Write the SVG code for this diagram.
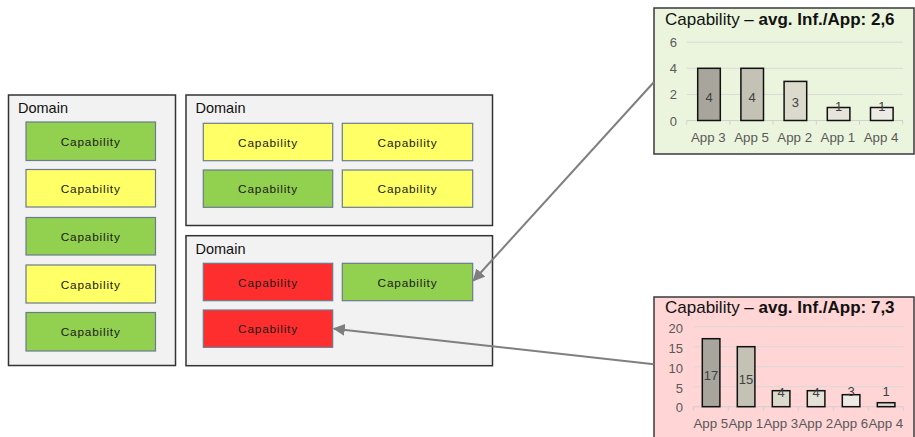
<svg xmlns="http://www.w3.org/2000/svg" width="915" height="437" viewBox="0 0 915 437">
  <style>
    .domain { fill: #f2f2f2; stroke: #333333; stroke-width: 1.5; }
    .dlabel { font-family: "Liberation Sans", Arial, sans-serif; font-size: 14.5px; fill: #111111; }
    .cap { stroke: #6b7a8f; stroke-width: 1.2; }
    .green { fill: #92d050; }
    .yellow { fill: #ffff66; }
    .red { fill: #ff2e2e; }
    .ctext { font-family: "Liberation Sans", Arial, sans-serif; font-size: 11.8px; letter-spacing: 0.8px; fill: #1a1a1a; text-anchor: middle; }
    .chart { stroke: #3a3a3a; stroke-width: 1.5; }
    .title { font-family: "Liberation Sans", Arial, sans-serif; font-size: 17px; fill: #111111; }
    .title .b { font-weight: bold; }
    .grid { stroke: #d9d9d9; stroke-width: 1; }
    .axis { stroke: #d0d0d0; stroke-width: 1; }
    .ylab { font-family: "Liberation Sans", Arial, sans-serif; font-size: 13px; fill: #595959; text-anchor: end; }
    .xlab { font-family: "Liberation Sans", Arial, sans-serif; font-size: 13.3px; fill: #595959; text-anchor: middle; }
    .bar { stroke: #111111; stroke-width: 1.5; }
    .val { font-family: "Liberation Sans", Arial, sans-serif; font-size: 13px; fill: #404040; text-anchor: middle; }
    .conn { stroke: #7f7f7f; stroke-width: 2; fill: none; marker-end: url(#arrow); }
  </style>
  <defs>
    <marker id="arrow" viewBox="0 0 10 10" refX="9" refY="5" markerWidth="6" markerHeight="6" orient="auto" markerUnits="strokeWidth">
      <path d="M0,0 L10,5 L0,10 z" fill="#7f7f7f"/>
    </marker>
  </defs>

  <!-- Left domain: five stacked capabilities -->
  <g id="domain-left">
    <rect class="domain" x="8.5" y="95" width="167" height="270.5"/>
    <text class="dlabel" x="18" y="112.5">Domain</text>
    <g id="cap-l1"><rect class="cap green" x="26" y="122" width="129.5" height="38.5"/><text class="ctext" x="90.7" y="145.5">Capability</text></g>
    <g id="cap-l2"><rect class="cap yellow" x="26" y="169.5" width="129.5" height="37.5"/><text class="ctext" x="90.7" y="192.5">Capability</text></g>
    <g id="cap-l3"><rect class="cap green" x="26" y="217.5" width="129.5" height="37.5"/><text class="ctext" x="90.7" y="240.5">Capability</text></g>
    <g id="cap-l4"><rect class="cap yellow" x="26" y="265" width="129.5" height="38"/><text class="ctext" x="90.7" y="288.5">Capability</text></g>
    <g id="cap-l5"><rect class="cap green" x="26" y="312.5" width="129.5" height="38.5"/><text class="ctext" x="90.7" y="336">Capability</text></g>
  </g>

  <!-- Upper middle domain: 2x2 capabilities -->
  <g id="domain-top">
    <rect class="domain" x="186" y="95" width="306.5" height="130.5"/>
    <text class="dlabel" x="195.5" y="113">Domain</text>
    <g id="cap-t1"><rect class="cap yellow" x="203.3" y="123.3" width="129.4" height="37.4"/><text class="ctext" x="268" y="146.5">Capability</text></g>
    <g id="cap-t2"><rect class="cap yellow" x="342.3" y="123.3" width="130.4" height="37.4"/><text class="ctext" x="407.5" y="146.5">Capability</text></g>
    <g id="cap-t3"><rect class="cap green" x="203.3" y="170" width="129.4" height="37.3"/><text class="ctext" x="268" y="193">Capability</text></g>
    <g id="cap-t4"><rect class="cap yellow" x="342.3" y="170" width="130.4" height="37.3"/><text class="ctext" x="407.5" y="193">Capability</text></g>
  </g>

  <!-- Lower middle domain: three capabilities -->
  <g id="domain-bottom">
    <rect class="domain" x="186" y="235.7" width="306.5" height="130"/>
    <text class="dlabel" x="195.5" y="254">Domain</text>
    <g id="cap-b1"><rect class="cap red" x="203.3" y="263.3" width="129.4" height="37.4"/><text class="ctext" x="268" y="286.5">Capability</text></g>
    <g id="cap-b2"><rect class="cap green" x="342.3" y="263.3" width="130.4" height="37.4"/><text class="ctext" x="407.5" y="286.5">Capability</text></g>
    <g id="cap-b3"><rect class="cap red" x="203.3" y="310" width="129.4" height="37.3"/><text class="ctext" x="268" y="333">Capability</text></g>
  </g>

  <!-- Detail chart for the green capability -->
  <g id="chart-green">
    <rect class="chart" x="654" y="8" width="260" height="146" fill="#ebf5dd"/>
    <text class="title" x="665" y="25">Capability – <tspan class="b">avg. Inf./App: 2,6</tspan></text>
    <line class="grid" x1="686.7" y1="42.2" x2="903" y2="42.2"/>
    <line class="grid" x1="686.7" y1="68.3" x2="903" y2="68.3"/>
    <line class="grid" x1="686.7" y1="94.4" x2="903" y2="94.4"/>
    <line class="axis" x1="686.7" y1="120.5" x2="903" y2="120.5"/>
    <g class="axis">
      <line x1="686.7" y1="120.5" x2="686.7" y2="124.5"/>
      <line x1="729.9" y1="120.5" x2="729.9" y2="124.5"/>
      <line x1="773.1" y1="120.5" x2="773.1" y2="124.5"/>
      <line x1="816.3" y1="120.5" x2="816.3" y2="124.5"/>
      <line x1="859.5" y1="120.5" x2="859.5" y2="124.5"/>
      <line x1="902.7" y1="120.5" x2="902.7" y2="124.5"/>
    </g>
    <text class="ylab" x="677" y="47">6</text>
    <text class="ylab" x="677" y="73">4</text>
    <text class="ylab" x="677" y="99">2</text>
    <text class="ylab" x="677" y="125.5">0</text>
    <rect class="bar" x="697.7" y="68.3" width="22.6" height="52.2" fill="#a8a59c"/>
    <rect class="bar" x="740.9" y="68.3" width="22.6" height="52.2" fill="#c4c2b5"/>
    <rect class="bar" x="784.1" y="81.4" width="22.6" height="39.1" fill="#dcdacd"/>
    <rect class="bar" x="827.3" y="107.5" width="22.6" height="13" fill="#e6e4db"/>
    <rect class="bar" x="870.5" y="107.5" width="22.6" height="13" fill="#ecebe6"/>
    <text class="val" x="709" y="101.5">4</text>
    <text class="val" x="752.2" y="101.5">4</text>
    <text class="val" x="795.4" y="106.5">3</text>
    <text class="val" x="838.6" y="110.5">1</text>
    <text class="val" x="881.8" y="110.5">1</text>
    <text class="xlab" x="708.3" y="141.5">App 3</text>
    <text class="xlab" x="751.5" y="141.5">App 5</text>
    <text class="xlab" x="794.7" y="141.5">App 2</text>
    <text class="xlab" x="837.9" y="141.5">App 1</text>
    <text class="xlab" x="881.1" y="141.5">App 4</text>
  </g>

  <!-- Detail chart for the red capability -->
  <g id="chart-red">
    <rect class="chart" x="654" y="297" width="260" height="145" fill="#ffd5d5"/>
    <text class="title" x="665" y="313">Capability – <tspan class="b">avg. Inf./App: 7,3</tspan></text>
    <line class="grid" x1="693.3" y1="326.7" x2="903.3" y2="326.7"/>
    <line class="grid" x1="693.3" y1="346.7" x2="903.3" y2="346.7"/>
    <line class="grid" x1="693.3" y1="366.7" x2="903.3" y2="366.7"/>
    <line class="grid" x1="693.3" y1="386.7" x2="903.3" y2="386.7"/>
    <line class="axis" x1="693.3" y1="406.7" x2="903.3" y2="406.7"/>
    <g class="axis">
      <line x1="693.3" y1="406.7" x2="693.3" y2="410.7"/>
      <line x1="728.3" y1="406.7" x2="728.3" y2="410.7"/>
      <line x1="763.3" y1="406.7" x2="763.3" y2="410.7"/>
      <line x1="798.3" y1="406.7" x2="798.3" y2="410.7"/>
      <line x1="833.3" y1="406.7" x2="833.3" y2="410.7"/>
      <line x1="868.3" y1="406.7" x2="868.3" y2="410.7"/>
      <line x1="903.3" y1="406.7" x2="903.3" y2="410.7"/>
    </g>
    <text class="ylab" x="683" y="333">20</text>
    <text class="ylab" x="683" y="353">15</text>
    <text class="ylab" x="683" y="373">10</text>
    <text class="ylab" x="683" y="392.5">5</text>
    <text class="ylab" x="683" y="411.5">0</text>
    <rect class="bar" x="702.3" y="338.7" width="17.6" height="68" fill="#a8a59c"/>
    <rect class="bar" x="737.3" y="346.7" width="17.6" height="60" fill="#c4c2b5"/>
    <rect class="bar" x="772.3" y="390.7" width="17.6" height="16" fill="#dcdacd"/>
    <rect class="bar" x="807.3" y="390.7" width="17.6" height="16" fill="#e3e1d8"/>
    <rect class="bar" x="842.3" y="394.7" width="17.6" height="12" fill="#ecebe6"/>
    <rect class="bar" x="877.3" y="402.7" width="17.6" height="4" fill="#dcdacd"/>
    <text class="val" x="711.1" y="379.5">17</text>
    <text class="val" x="746.1" y="383.5">15</text>
    <text class="val" x="781.1" y="397">4</text>
    <text class="val" x="816.1" y="397">4</text>
    <text class="val" x="851.1" y="396">3</text>
    <text class="val" x="886.1" y="396">1</text>
    <text class="xlab" x="710.8" y="428">App 5</text>
    <text class="xlab" x="745.8" y="428">App 1</text>
    <text class="xlab" x="780.8" y="428">App 3</text>
    <text class="xlab" x="815.8" y="428">App 2</text>
    <text class="xlab" x="850.8" y="428">App 6</text>
    <text class="xlab" x="885.8" y="428">App 4</text>
  </g>

  <!-- Links from the charts to their capabilities -->
  <g id="connectors">
    <line class="conn" x1="654" y1="82" x2="473.5" y2="280.5"/>
    <line class="conn" x1="654" y1="364.3" x2="334" y2="328.7"/>
  </g>
</svg>
